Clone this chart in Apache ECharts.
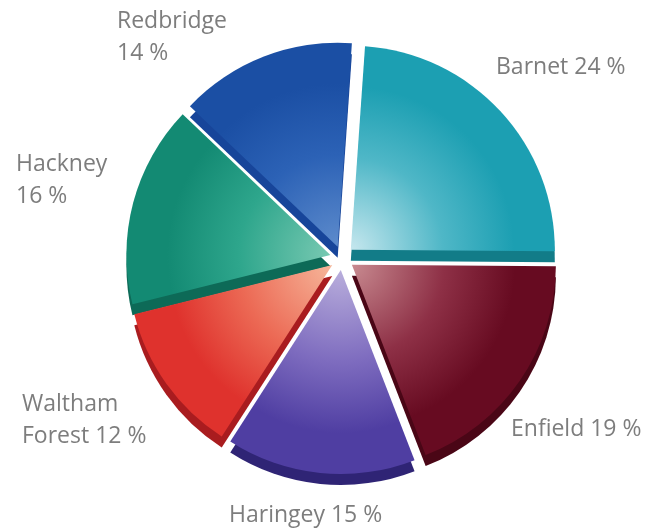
<!DOCTYPE html>
<html><head><meta charset="utf-8">
<script src="https://cdn.jsdelivr.net/npm/echarts@6/dist/echarts.min.js"></script>
<style>html,body{margin:0;padding:0;background:#fff}#c{width:659px;height:531px}</style>
</head><body><div id="c"></div>
<script>
const boroughs = ['Barnet', 'Enfield', 'Haringey', 'Waltham Forest', 'Hackney', 'Redbridge'];
const shares = [24, 19, 15, 12, 16, 14];
const labelTexts = ['Barnet 24 %', 'Enfield 19 %', 'Haringey 15 %', 'Waltham\nForest 12 %', 'Hackney\n16 %', 'Redbridge\n14 %'];

const faceLight = ['#c6e7ee', '#c88a90', '#b9aedc', '#f6b69a', '#78c9b2', '#5d8bcc'];
const faceMid   = ['#4fb7c7', '#8e3046', '#7e6cbf', '#ec6a55', '#2ea68c', '#2c62b6'];
const faceDark  = ['#1c9fb2', '#670b21', '#4f3ea2', '#df322d', '#138a73', '#1b4fa4'];
const sideColor = ['#127c88', '#4a0616', '#2f2475', '#a91c1f', '#0d6a57', '#17459a'];

const labelAnchors = [[496,51],[511,413],[229,499],[22,388],[16,148],[117,5]];

const CX = 342, CY = 258, R = 204, OFF = 12, DEPTH = 11;

const chart = echarts.init(document.getElementById('c'));
function grad(i, cy) {
  return {type:'radial', x: CX, y: cy, r: R, global: true,
    colorStops:[{offset:0,color:faceLight[i]},{offset:0.45,color:faceMid[i]},{offset:0.8,color:faceDark[i]},{offset:1,color:faceDark[i]}]};
}
const topData = boroughs.map((b,i)=>({name:b, value:shares[i], selected:true,
  itemStyle:{color:grad(i, CY)}, select:{itemStyle:{color:grad(i, CY)}}}));
const sideData = boroughs.map((b,i)=>({name:b, value:shares[i], selected:true,
  itemStyle:{color:sideColor[i]}, select:{itemStyle:{color:sideColor[i]}}}));

chart.setOption({
  animation:false,
  graphic: labelTexts.map((t,i)=>({type:'text', x:labelAnchors[i][0], y:labelAnchors[i][1], z:10,
    style:{text:t, fill:'#7d7d7d', font:'23px "Open Sans"', lineHeight:32, textAlign:'left', textVerticalAlign:'top'}})),
  series:[
    {type:'pie', z:1, silent:true, center:[CX, CY+DEPTH], radius:R, startAngle:86, clockwise:true,
     selectedMode:'multiple', selectedOffset:OFF, label:{show:false}, labelLine:{show:false},
     emphasis:{disabled:true}, data:sideData},
    {type:'pie', z:2, center:[CX, CY], radius:R, startAngle:86, clockwise:true,
     selectedMode:'multiple', selectedOffset:OFF, label:{show:false}, labelLine:{show:false},
     emphasis:{disabled:true}, data:topData}
  ]
});
</script></body></html>
